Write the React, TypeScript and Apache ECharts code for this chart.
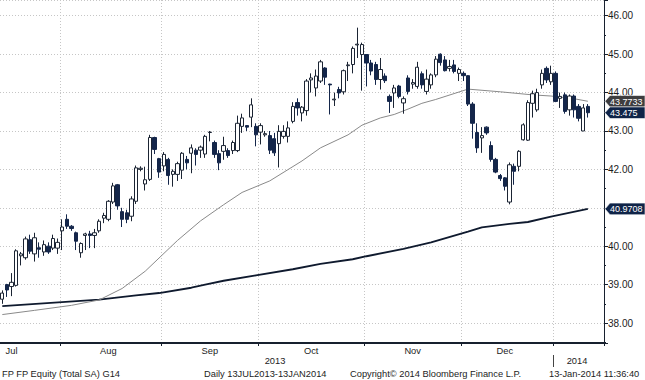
import React, { useEffect, useRef } from "react";
import * as echarts from "echarts";

// Trading days (Euronext Paris) per month, 13 Jul 2013 - 13 Jan 2014
const julDays = [15, 16, 17, 18, 19, 22, 23, 24, 25, 26, 29, 30, 31];
const augDays = [1, 2, 5, 6, 7, 8, 9, 12, 13, 14, 15, 16, 19, 20, 21, 22, 23, 26, 27, 28, 29, 30];
const sepDays = [2, 3, 4, 5, 6, 9, 10, 11, 12, 13, 16, 17, 18, 19, 20, 23, 24, 25, 26, 27, 30];
const octDays = [1, 2, 3, 4, 7, 8, 9, 10, 11, 14, 15, 16, 17, 18, 21, 22, 23, 24, 25, 28, 29, 30, 31];
const novDays = [1, 4, 5, 6, 7, 8, 11, 12, 13, 14, 15, 18, 19, 20, 21, 22, 25, 26, 27, 28, 29];
const decDays = [2, 3, 4, 5, 6, 9, 10, 11, 12, 13, 16, 17, 18, 19, 20, 23, 24, 27, 30, 31];
const janDays = [2, 3, 6, 7, 8, 9, 10, 13];

const opens = [
  38.62, 39.0, 38.95, 38.98, 39.75, 39.7, 40.17, 39.8, 39.96, 39.85, 40.0, 39.95, 39.95,
  40.4, 40.7, 40.52, 40.35, 39.83, 40.28, 40.32, 40.28, 40.4, 40.73, 40.7, 41.15, 41.6, 40.9, 40.87, 40.78, 41.17, 42.0, 41.62, 41.74, 42.83, 42.28,
  42.09, 42.26, 41.87, 41.87, 41.98, 42.26, 42.42, 42.5, 42.5, 42.4, 42.96, 42.7, 42.41, 42.47, 42.49, 42.49, 42.49, 43.12, 43.14, 43.36, 43.12,
  42.97, 42.9, 42.88, 42.8, 42.67, 42.86, 42.86, 43.25, 43.74, 43.47, 43.53, 44.33, 44.12, 44.3, 44.64, 44.22, 43.81, 44.08, 44.02, 44.7, 44.73, 45.24, 44.99,
  44.99, 44.77, 44.73, 44.34, 44.43, 43.9, 43.99, 44.17, 43.73, 44.38, 44.22, 44.16, 44.49, 44.03, 44.2, 44.46, 45.0, 44.85, 44.63, 44.72, 44.5,
  44.5, 44.44, 43.7, 42.96, 42.82, 43.1, 42.62, 42.26, 41.84, 41.78, 41.15, 42.08, 42.08, 42.77, 42.76, 43.72, 43.55, 44.2, 44.63, 44.28,
  44.5, 43.85, 43.94, 43.55, 43.91, 43.64, 43.0, 43.64,
];
const closes = [
  38.78, 38.86, 39.06, 39.88, 39.8, 40.19, 39.87, 40.22, 39.92, 40.04, 39.85, 40.2, 40.1,
  40.5, 40.52, 40.46, 40.13, 40.07, 40.32, 40.28, 40.35, 40.65, 40.8, 41.17, 41.57, 41.05, 40.7, 40.7, 41.23, 42.04, 42.03, 41.73, 42.83, 42.52, 41.93,
  42.39, 41.84, 41.95, 42.15, 42.42, 42.17, 42.56, 42.39, 42.58, 42.86, 42.97, 42.39, 42.17, 42.62, 42.36, 42.7, 43.2, 43.34, 43.1, 43.68, 42.9,
  43.14, 42.93, 42.5, 42.43, 42.99, 42.99, 43.08, 43.64, 43.6, 43.62, 44.3, 44.38, 44.43, 44.8, 44.4, 44.2, 43.83, 43.99, 44.57, 44.72, 45.15, 45.26, 45.25,
  44.77, 44.56, 44.34, 44.6, 44.31, 43.77, 44.12, 43.9, 43.84, 44.03, 44.26, 44.66, 44.2, 44.35, 44.46, 44.87, 44.78, 44.57, 44.68, 44.55, 44.6,
  44.44, 43.7, 43.2, 42.56, 42.88, 42.95, 42.26, 41.93, 41.76, 41.56, 42.12, 41.95, 42.47, 43.16, 43.74, 43.97, 44.0, 44.5, 44.33, 44.5,
  43.77, 43.9, 43.51, 43.91, 43.55, 43.33, 43.6, 43.475,
];
const lows = [
  38.5, 38.68, 38.7, 38.95, 39.5, 39.65, 39.8, 39.6, 39.7, 39.75, 39.8, 39.9, 39.8,
  39.9, 40.45, 40.4, 39.9, 39.7, 39.9, 39.95, 39.95, 40.35, 40.6, 40.65, 41.1, 40.95, 40.5, 40.6, 40.65, 41.1, 41.95, 41.45, 41.7, 42.4, 41.78,
  41.95, 41.6, 41.55, 41.7, 41.75, 42.0, 41.9, 42.1, 42.3, 42.3, 42.73, 42.3, 41.98, 42.25, 42.3, 42.4, 42.45, 42.95, 43.0, 43.1, 42.6,
  42.65, 42.85, 42.4, 42.35, 42.05, 42.8, 42.7, 43.2, 43.4, 43.25, 43.4, 44.0, 43.9, 44.25, 44.2, 43.43, 43.65, 43.85, 43.95, 44.3, 44.5, 44.9, 44.05,
  44.16, 44.45, 44.2, 44.08, 44.25, 43.47, 43.6, 43.85, 43.45, 43.95, 44.1, 44.1, 44.1, 43.95, 44.1, 44.4, 44.7, 44.55, 44.55, 44.5, 44.3,
  44.3, 43.65, 42.8, 42.43, 42.43, 42.9, 42.2, 41.9, 41.7, 41.45, 41.09, 41.6, 41.95, 42.75, 42.74, 43.35, 43.5, 44.1, 44.25, 44.2,
  43.75, 43.6, 43.45, 43.4, 43.35, 43.25, 43.0, 43.35,
];
const highs = [
  38.85, 39.02, 39.3, 39.92, 39.85, 40.25, 40.3, 40.35, 40.1, 40.15, 40.1, 40.3, 40.2,
  40.7, 40.83, 40.55, 40.38, 40.1, 40.35, 40.4, 40.45, 40.7, 40.87, 41.2, 41.65, 41.62, 41.0, 40.95, 41.3, 42.1, 42.08, 42.07, 42.9, 42.85, 42.3,
  42.45, 42.3, 42.0, 42.2, 42.45, 42.35, 42.65, 42.55, 42.62, 42.9, 43.0, 42.75, 42.5, 42.85, 42.55, 42.75, 43.4, 43.45, 43.15, 43.85, 43.2,
  43.2, 43.0, 43.0, 42.95, 43.15, 43.15, 43.25, 43.75, 43.85, 43.65, 44.35, 44.5, 44.6, 44.85, 44.66, 44.23, 44.0, 44.15, 44.6, 44.8, 45.2, 45.69, 45.3,
  45.0, 44.85, 44.8, 44.9, 44.5, 43.95, 44.2, 44.2, 43.9, 44.45, 44.35, 44.8, 44.55, 44.6, 44.5, 44.95, 45.02, 44.95, 44.85, 44.85, 44.65,
  44.55, 44.45, 43.75, 43.2, 43.1, 43.12, 42.73, 42.3, 41.88, 41.8, 42.18, 42.15, 42.5, 43.2, 43.8, 44.05, 44.1, 44.6, 44.68, 44.7,
  44.55, 44.0, 44.0, 43.95, 43.95, 43.7, 43.7, 43.7,
];

// Moving averages: [trading-day index, value]
const ma50Points = [
  [0, 38.22], [7, 38.33], [15, 38.46], [21, 38.6], [26, 38.9], [31, 39.35], [38, 40.15], [43, 40.66],
  [48, 41.08], [52, 41.4], [58, 41.7], [65, 42.22], [69, 42.56], [75, 42.9], [78, 43.15], [82, 43.34],
  [85, 43.43], [88, 43.57], [91, 43.72], [94, 43.82], [101, 44.09], [108, 44.02], [115, 43.94], [119, 43.91],
  [124, 43.84], [127, 43.7733],
];
const ma200Points = [
  [0, 38.44], [21, 38.61], [29, 38.72], [34, 38.78], [41, 38.92], [44, 39.0], [48, 39.1], [55, 39.24],
  [63, 39.4], [69, 39.54], [76, 39.66], [79, 39.74], [87, 39.93], [93, 40.1], [101, 40.38], [104, 40.49],
  [110, 40.58], [114, 40.63], [119, 40.77], [127, 40.9708],
];

const monthNames = ["Jul", "Aug", "Sep", "Oct", "Nov", "Dec"];
const monthLabelIndex = [2, 23, 45, 67, 89, 109];
const yearLabels = ["2013", "2014"];
const hiddenPriceLabels = [41];
const footerTexts = [
  "FP FP Equity (Total SA) G14",
  "Daily 13JUL2013-13JAN2014",
  "Copyright\u00A9 2014 Bloomberg Finance L.P.",
  "13-Jan-2014 11:36:40",
];

const FONT = "Liberation Sans";
const INK = "#1c1c1c";
const AXIS = "#17202e";
const GRID = "#c6c6c6";

export default function App() {
  const ref = useRef<HTMLDivElement>(null);

  useEffect(() => {
    document.body.style.margin = "0";
    const chart = echarts.init(ref.current!, null, { renderer: "svg" });

    const months: [string, number[]][] = [
      ["2013-07", julDays], ["2013-08", augDays], ["2013-09", sepDays], ["2013-10", octDays],
      ["2013-11", novDays], ["2013-12", decDays], ["2014-01", janDays],
    ];
    const cats: string[] = [];
    const monthStarts = new Set<number>();
    let lastMonthStart = 0;
    months.forEach(([m, days], mi) => {
      if (mi > 0) {
        monthStarts.add(cats.length);
        lastMonthStart = cats.length;
      }
      days.forEach((d) => cats.push(m + "-" + String(d).padStart(2, "0")));
    });
    for (let k = 0; k < 3; k++) cats.push("pad" + k);

    const labelMap: Record<number, string> = {};
    monthLabelIndex.forEach((idx, k) => (labelMap[idx] = monthNames[k]));

    const candle = opens.map((o, i) => [o, closes[i], lows[i], highs[i]]);

    chart.setOption({
      animation: false,
      backgroundColor: "#ffffff",
      textStyle: { fontFamily: FONT },
      grid: { left: -4, right: 41, top: -2, bottom: 37, containLabel: false },
      xAxis: {
        type: "category",
        data: cats,
        boundaryGap: true,
        axisLine: { show: true, lineStyle: { color: AXIS, width: 2 } },
        axisTick: {
          show: true,
          interval: (i: number) => monthStarts.has(i),
          length: 3,
          lineStyle: { color: AXIS, width: 1 },
        },
        axisLabel: {
          interval: (i: number) => labelMap[i] !== undefined,
          formatter: (_v: string, i: number) => labelMap[i] ?? "",
          margin: 3,
          fontSize: 9.3,
          color: INK,
          fontFamily: FONT,
        },
        splitLine: {
          show: true,
          interval: (i: number) => monthStarts.has(i),
          lineStyle: { color: GRID, type: [1, 2], width: 1 },
        },
      },
      yAxis: {
        type: "value",
        position: "right",
        min: 37.48,
        max: 46.41,
        splitNumber: 9,
        minInterval: 1,
        maxInterval: 1,
        axisLine: { show: true, lineStyle: { color: AXIS, width: 1 } },
        axisTick: { show: true, length: 4, lineStyle: { color: AXIS } },
        minorTick: { show: true, splitNumber: 2, length: 2, lineStyle: { color: AXIS } },
        axisLabel: {
          formatter: (v: number) => (hiddenPriceLabels.includes(Math.round(v * 100) / 100) ? "" : v.toFixed(2)),
          showMinLabel: false,
          showMaxLabel: false,
          margin: 4,
          fontSize: 10,
          color: INK,
          fontFamily: FONT,
        },
        splitLine: { show: true, lineStyle: { color: GRID, type: [1, 2], width: 1 } },
      },
      series: [
        {
          type: "line",
          data: ma200Points,
          symbol: "none",
          lineStyle: { color: "#0f1a2e", width: 1.9 },
          z: 1,
        },
        {
          type: "line",
          data: ma50Points,
          symbol: "none",
          lineStyle: { color: "#8a8a8a", width: 1 },
          z: 1,
        },
        {
          type: "candlestick",
          data: candle,
          barWidth: 3.8,
          z: 2,
          itemStyle: {
            color: "#ffffff",
            color0: "#14264a",
            borderColor: "#1b2433",
            borderColor0: "#14264a",
            borderWidth: 1,
          },
        },
      ],
    });

    const yOf = (v: number) => chart.convertToPixel({ yAxisIndex: 0 }, v) as number;
    const xOf = (i: number) => chart.convertToPixel({ xAxisIndex: 0 }, i) as number;
    const lastMa50 = ma50Points[ma50Points.length - 1][1];
    const lastMa200 = ma200Points[ma200Points.length - 1][1];
    const lastClose = closes[closes.length - 1];
    const axisX = 604;
    const tag = (v: number, fill: string) => {
      const y = yOf(v);
      return {
        type: "group",
        z: 100,
        children: [
          {
            type: "polygon",
            z: 100,
            shape: {
              points: [[axisX + 1, y], [axisX + 6, y - 5.8], [645, y - 5.8], [645, y + 5.8], [axisX + 6, y + 5.8]],
            },
            style: { fill, stroke: "#ffffff", lineWidth: 0.6 },
          },
          {
            type: "text",
            z: 101,
            x: axisX + 6,
            y: y + 0.5,
            style: { text: String(v), fill: "#ffffff", font: `9px "${FONT}"`, verticalAlign: "middle" },
          },
        ],
      };
    };

    const bandHalf = (xOf(1) - xOf(0)) / 2;
    const janStartX = Math.round(xOf(lastMonthStart) - bandHalf) + 0.5;
    const footerY = 373.5;
    const footerX = [2, 204, 350, 549];

    chart.setOption({
      graphic: [
        tag(lastMa50, "#3d3d3f"),
        tag(lastClose, "#0f2448"),
        tag(lastMa200, "#0f2448"),
        {
          type: "text",
          x: 275,
          y: 361,
          style: { text: yearLabels[0], fill: INK, font: `9.3px "${FONT}"`, align: "center", verticalAlign: "middle" },
        },
        {
          type: "text",
          x: 577,
          y: 361,
          style: { text: yearLabels[1], fill: INK, font: `9.3px "${FONT}"`, align: "center", verticalAlign: "middle" },
        },
        {
          type: "line",
          shape: { x1: janStartX, y1: 355, x2: janStartX, y2: 367 },
          style: { stroke: "#444444", lineWidth: 1 },
        },
        ...footerTexts.map((t, k) => ({
          type: "text",
          x: footerX[k],
          y: footerY,
          style: { text: t, fill: INK, font: `9.3px "${FONT}"`, verticalAlign: "middle" },
        })),
      ],
    });

    return () => chart.dispose();
  }, []);

  return (
    <div
      ref={ref}
      style={{ position: "fixed", left: 0, top: 0, width: 645, height: 380, background: "#ffffff" }}
    />
  );
}
